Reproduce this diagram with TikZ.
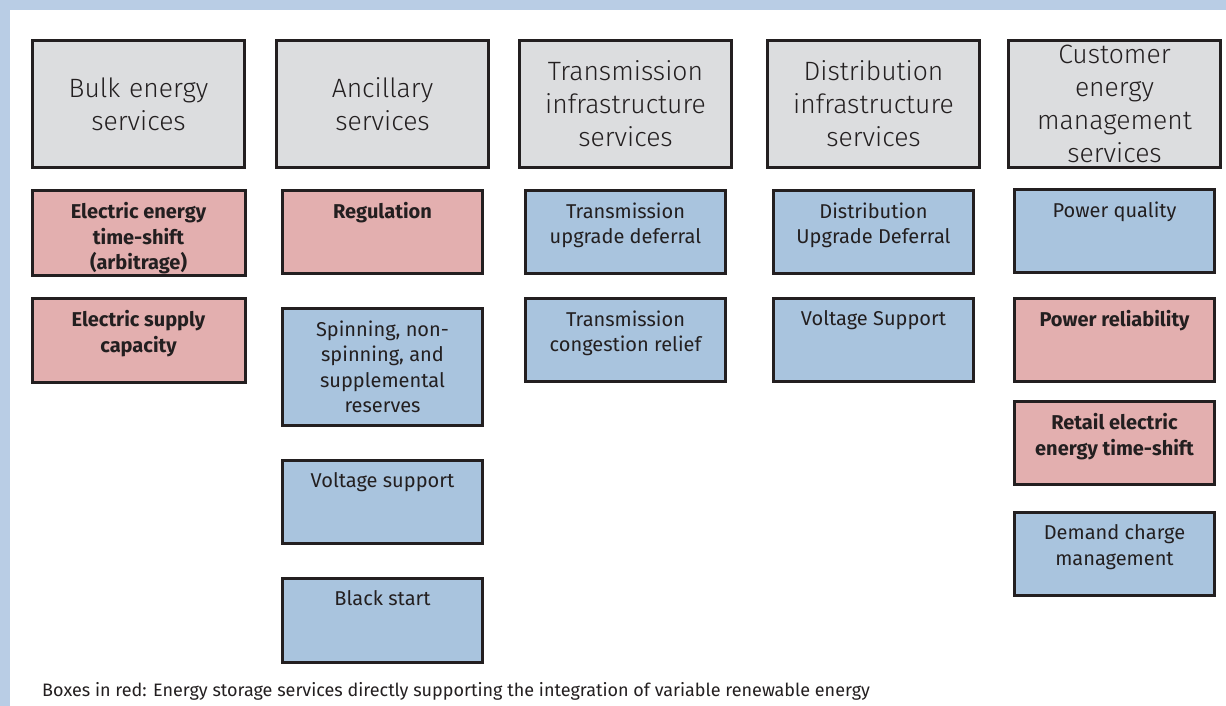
\documentclass[tikz,border=0pt]{standalone}
\usepackage{fontspec}
\setmainfont{Fira Sans}
\newfontfamily\lightface{Fira Sans}[UprightFont=* Light]
\usetikzlibrary{positioning}

\definecolor{framebg}{HTML}{B9CDE5}
\definecolor{hdrgray}{HTML}{DCDDDF}
\definecolor{redfill}{HTML}{E3AFAF}
\definecolor{bluefill}{HTML}{A9C4DE}
\definecolor{edgegray}{HTML}{231F20}
\definecolor{txtgray}{HTML}{231F20}

\newcommand{\hdrfont}{\lightface\fontsize{26.5}{33}\selectfont}
\newcommand{\subfont}{\fontsize{20}{25.5}\selectfont}
% text sits at the top of a box of fixed height
\newcommand{\boxtxt}[3][200pt]{\parbox[c][#2][t]{#1}{\centering #3}}

\begin{document}
\begin{tikzpicture}[x=1pt, y=-1pt,
  hdr/.style={draw=edgegray, line width=3pt, fill=hdrgray, text=txtgray,
    minimum width=212pt, minimum height=127pt, text width=205pt,
    align=center, inner sep=0pt, font=\hdrfont},
  sub/.style={draw=edgegray, line width=3pt, text=txtgray,
    inner xsep=0pt, inner ysep=12pt, font=\subfont},
  redbox/.style={sub, fill=redfill, font=\subfont\bfseries},
  bluebox/.style={sub, fill=bluefill}]

\useasboundingbox (0,0) rectangle (1226,706);
\fill[framebg] (0,0) rectangle (1226,706);
\fill[white] (10,10) rectangle (1226,706);

% column heads
\node[hdr, anchor=north west] (bulk) at (31,39) {Bulk energy\\services};
\node[hdr, right=29pt of bulk] (anc) {Ancillary\\services};
\node[hdr, right=28pt of anc] (trans) {Transmission\\infrastructure\\services};
\node[hdr, right=33pt of trans] (dist) {Distribution\\infrastructure\\services};
\node[hdr, right=26pt of dist] (cust) {Customer\\energy\\management\\services};

% bulk energy
\node[redbox, below=20pt of bulk] (shift) {\boxtxt[213pt]{61pt}{Electric energy\\time-shift\\(arbitrage)}};
\node[redbox, below=20pt of shift] (supply) {\boxtxt[213pt]{60pt}{Electric supply\\capacity}};

% ancillary
\node[redbox, below=20pt of anc] (reg) {\boxtxt{59pt}{Regulation}};
\node[bluebox, below=32pt of reg] (spin) {\boxtxt{93pt}{Spinning, non-\\spinning, and\\supplemental\\reserves}};
\node[bluebox, below=32pt of spin] (volt) {\boxtxt{59pt}{Voltage support}};
\node[bluebox, below=32pt of volt] (black) {\boxtxt{60pt}{Black start}};

% transmission
\node[bluebox, below=20pt of trans] (tdefer) {\boxtxt{59pt}{Transmission\\upgrade deferral}};
\node[bluebox, below=22pt of tdefer] (congest) {\boxtxt{59pt}{Transmission\\congestion relief}};

% distribution
\node[bluebox, below=20pt of dist] (ddefer) {\boxtxt{59pt}{Distribution\\Upgrade Deferral}};
\node[bluebox, below=22pt of ddefer] (dvolt) {\boxtxt{59pt}{Voltage Support}};

% customer
\node[bluebox, below=19pt of cust] (quality) {\boxtxt{59pt}{Power quality}};
\node[redbox, below=23pt of quality] (reliab) {\boxtxt{59pt}{Power reliability}};
\node[redbox, below=17pt of reliab] (retail) {\boxtxt{59pt}{Retail electric\\energy time-shift}};
\node[bluebox, below=25pt of retail] (demand) {\boxtxt{59pt}{Demand charge\\management}};

\node[anchor=west, inner sep=0pt, text=txtgray, font=\fontsize{18}{22}\selectfont] (note) at (42,691)
  {Boxes in red: Energy storage services directly supporting the integration of variable renewable energy};

\end{tikzpicture}
\end{document}
